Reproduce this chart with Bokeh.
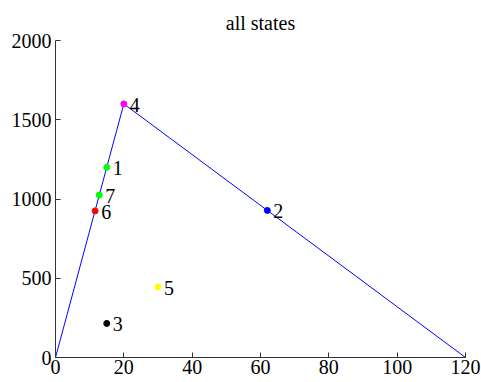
from bokeh.plotting import figure
from bokeh.models import Range1d, FixedTicker, ColumnDataSource
from bokeh.core.properties import value
from bokeh.embed import file_html
from bokeh.resources import INLINE

# boundary line
line_x = [0, 20, 120]
line_y = [0, 1600, 0]

# states
state_labels = ["1", "2", "3", "4", "5", "6", "7"]
state_x = [15, 62, 15, 20, 30, 11.6, 12.8]
state_y = [1200, 928, 215, 1600, 445, 925, 1025]
state_colors = ["#00ff00", "#0000ff", "#000000", "#ff00ff", "#ffff00", "#ff0000", "#00ff00"]

x_ticks = [0, 20, 40, 60, 80, 100, 120]
y_ticks = [0, 500, 1000, 1500, 2000]

FONT = "Liberation Serif"
FS = "20px"

p = figure(width=481, height=382, output_backend="svg", toolbar_location=None,
           x_range=Range1d(0, 120), y_range=Range1d(0, 2000),
           min_border_left=55, min_border_right=16, min_border_top=40, min_border_bottom=25,
           title="all states")
p.title.align = "center"
p.title.text_font = FONT
p.title.text_font_size = FS
p.title.text_font_style = "normal"
p.title.text_color = "#000000"
p.title.standoff = 14
p.outline_line_color = None
p.grid.visible = False
p.background_fill_color = "white"
p.border_fill_color = "white"

for ax in (p.xaxis, p.yaxis):
    ax.major_tick_in = 5
    ax.major_tick_out = 0
    ax.minor_tick_line_color = None
    ax.axis_line_color = "#333333"
    ax.major_tick_line_color = "#333333"
    ax.major_label_text_font = FONT
    ax.major_label_text_font_size = FS
    ax.major_label_text_color = "#000000"
p.xaxis.ticker = FixedTicker(ticks=x_ticks)
p.yaxis.ticker = FixedTicker(ticks=y_ticks)
p.xaxis.major_label_standoff = 2
p.yaxis.major_label_standoff = 4

p.line(line_x, line_y, line_color="#0000ff", line_width=1)

src = ColumnDataSource(dict(x=state_x, y=state_y, c=state_colors, t=state_labels))
p.scatter("x", "y", source=src, size=6, fill_color="c", line_color="c")
p.text("x", "y", text="t", source=src, x_offset=6, y_offset=1,
       text_baseline="middle", text_align="left",
       text_font=value(FONT), text_font_size=FS, text_color="#000000")

open("out.html", "w").write(file_html(p, INLINE))
